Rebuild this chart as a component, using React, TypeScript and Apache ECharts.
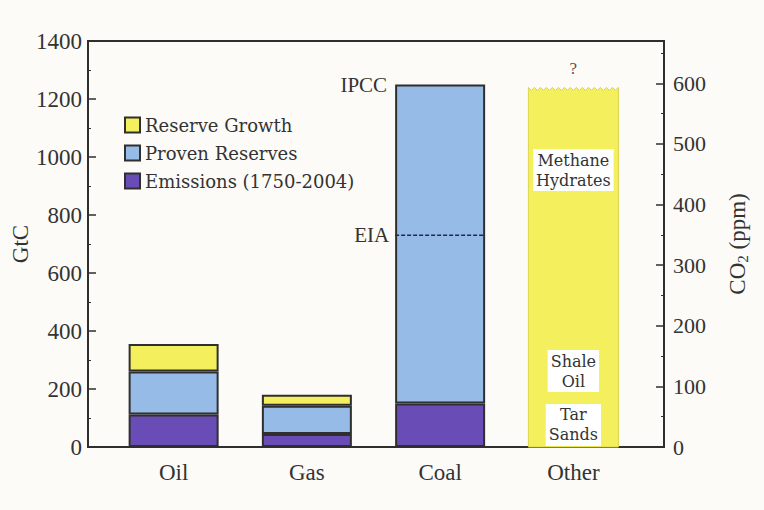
import React, { useEffect, useRef } from "react";
import * as echarts from "echarts";

// ---- data (GtC) ----
const categories = ["Oil", "Gas", "Coal", "Other"];
const emissions = [112, 45, 150, null];
const provenReserves = [148, 97, 1100, null];
const reserveGrowth = [95, 38, null, null];
const otherResources = [[3, 1240]];
const ipccCoal = [[2, 1250]];
const eiaCoal = [[2, 730]];
const otherLabels = ["Methane\nHydrates", "Shale\nOil", "Tar\nSands"];
const otherLabelValues = [955, 262, 76];
const gtcMax = 1400;
const gtcInterval = 200;
const gtcPerPpm = 2.09;
const ppmInterval = 100;

const BAR_W = 90;
const AXIS_FONT = '"Liberation Serif", "Times New Roman", serif';
const LEG_FONT = '"DejaVu Serif", serif';
const C_YELLOW = "#f4ef5c";
const C_BLUE = "#97bbe7";
const C_PURPLE = "#6a4cb6";
const C_LINE = "#2f2f2f";

export default function App() {
  const ref = useRef<HTMLDivElement>(null);
  useEffect(() => {
    if (!ref.current) return;
    const chart = echarts.init(ref.current, null, { renderer: "svg" });
    const barStyle = (color: string) => ({
      color,
      borderColor: C_LINE,
      borderWidth: 2,
    });
    const option: any = {
      animation: false,
      backgroundColor: "#fcfbf7",
      legend: {
        data: ["Reserve Growth", "Proven Reserves", "Emissions (1750-2004)"],
        orient: "vertical",
        left: 119,
        top: 111,
        icon: "rect",
        itemWidth: 15,
        itemHeight: 15,
        itemGap: 10,
        textStyle: { fontFamily: LEG_FONT, fontSize: 18, color: "#333" },
      },
      grid: [
        { left: 107, right: 124, top: 41, bottom: 63, outerBoundsMode: "none", containLabel: false },
        {
          left: 88,
          right: 100,
          top: 41,
          bottom: 63,
          outerBoundsMode: "none",
          containLabel: false,
          show: true,
          borderColor: C_LINE,
          borderWidth: 2,
          backgroundColor: "transparent",
        },
      ],
      xAxis: [
        {
          type: "category",
          gridIndex: 0,
          data: categories,
          axisLine: { show: false },
          axisTick: { show: false },
          axisLabel: {
            margin: 14,
            fontFamily: AXIS_FONT,
            fontSize: 23,
            color: "#333",
          },
        },
        { type: "value", gridIndex: 1, min: 0, max: 1, show: false },
      ],
      yAxis: [
        { type: "value", gridIndex: 0, min: 0, max: gtcMax, show: false },
        {
          type: "value",
          gridIndex: 1,
          position: "left",
          min: 0,
          max: gtcMax,
          interval: gtcInterval,
          name: "GtC",
          nameLocation: "middle",
          nameRotate: 90,
          nameGap: 56,
          nameMoveOverlap: false,
          nameTextStyle: {
            fontFamily: AXIS_FONT,
            fontSize: 23,
            color: "#333",
          },
          axisLine: { show: true, lineStyle: { color: C_LINE, width: 2 } },
          axisTick: { show: true, inside: true, length: 8, lineStyle: { color: C_LINE, width: 1.5 } },
          minorTick: { show: true, splitNumber: 2, length: 3, lineStyle: { color: C_LINE } },
          splitLine: { show: false },
          axisLabel: {
            margin: 6,
            fontFamily: AXIS_FONT,
            fontSize: 23,
            color: "#333",
            formatter: (v: number) => String(v),
          },
        },
        {
          type: "value",
          gridIndex: 1,
          position: "right",
          min: 0,
          max: gtcMax / gtcPerPpm,
          interval: ppmInterval,
          name: "{a|CO}{s|2}{a| (ppm)}",
          nameLocation: "middle",
          nameRotate: 90,
          nameGap: 61,
          nameTextStyle: {
            rich: {
              a: { fontFamily: AXIS_FONT, fontSize: 23, color: "#333" },
              s: { fontFamily: AXIS_FONT, fontSize: 15, color: "#333", padding: [10, 0, 0, 0] },
            },
          },
          axisLine: { show: true, lineStyle: { color: C_LINE, width: 2 } },
          axisTick: { show: true, inside: true, length: 8, lineStyle: { color: C_LINE, width: 1.5 } },
          minorTick: { show: true, splitNumber: 2, length: 3, lineStyle: { color: C_LINE } },
          splitLine: { show: false },
          axisLabel: {
            margin: 9,
            fontFamily: AXIS_FONT,
            fontSize: 22,
            color: "#333",
            formatter: (v: number) => (Math.abs(v % ppmInterval) < 1e-6 ? String(v) : ""),
          },
        },
      ],
      series: [
        {
          name: "Emissions (1750-2004)",
          type: "bar",
          stack: "total",
          barWidth: BAR_W,
          data: emissions,
          itemStyle: barStyle(C_PURPLE),
        },
        {
          name: "Proven Reserves",
          type: "bar",
          stack: "total",
          barWidth: BAR_W,
          data: provenReserves,
          itemStyle: barStyle(C_BLUE),
        },
        {
          name: "Reserve Growth",
          type: "bar",
          stack: "total",
          barWidth: BAR_W,
          data: reserveGrowth,
          itemStyle: barStyle(C_YELLOW),
        },
        {
          name: "Other",
          type: "custom",
          data: otherResources,
          encode: { x: 0, y: 1 },
          z: 3,
          renderItem: (params: any, api: any) => {
            const x = api.value(0);
            const top = api.coord([x, api.value(1)]);
            const base = api.coord([x, 0]);
            const l = top[0] - BAR_W / 2;
            const r = top[0] + BAR_W / 2;
            const pts: number[][] = [
              [l, base[1]],
              [r, base[1]],
            ];
            const step = 3;
            let i = 0;
            for (let xx = r; xx >= l - 0.01; xx -= step, i++) {
              pts.push([xx, top[1] + (i % 2 === 0 ? 0 : 3)]);
            }
            return {
              type: "polygon",
              shape: { points: pts },
              style: { fill: C_YELLOW, stroke: "#dcd44a", lineWidth: 1 },
            };
          },
        },
        {
          name: "annotations",
          type: "custom",
          data: otherLabelValues.map((v) => [3, v]),
          encode: { x: 0, y: 1 },
          z: 6,
          renderItem: (params: any, api: any) => {
            const p = api.coord([api.value(0), api.value(1)]);
            return {
              type: "text",
              style: {
                text: otherLabels[params.dataIndex],
                x: p[0],
                y: p[1],
                align: "center",
                verticalAlign: "middle",
                font: '16px "DejaVu Serif"',
                lineHeight: 20,
                fill: "#333",
                backgroundColor: "#ffffff",
                padding: [1, 3],
              },
            };
          },
        },
        {
          name: "IPCC",
          type: "custom",
          data: ipccCoal,
          encode: { x: 0, y: 1 },
          z: 6,
          renderItem: (params: any, api: any) => {
            const p = api.coord([api.value(0), api.value(1)]);
            return {
              type: "text",
              style: {
                text: "IPCC",
                x: p[0] - BAR_W / 2 - 8,
                y: p[1],
                align: "right",
                verticalAlign: "middle",
                font: '21px "Liberation Serif"',
                fill: "#333",
              },
            };
          },
        },
        {
          name: "EIA",
          type: "custom",
          data: eiaCoal,
          encode: { x: 0, y: 1 },
          z: 6,
          renderItem: (params: any, api: any) => {
            const p = api.coord([api.value(0), api.value(1)]);
            return {
              type: "group",
              children: [
                {
                  type: "line",
                  shape: { x1: p[0] - BAR_W / 2, y1: p[1], x2: p[0] + BAR_W / 2, y2: p[1] },
                  style: { stroke: "#1f2a44", lineWidth: 1.5, lineDash: [4, 2] },
                },
                {
                  type: "text",
                  style: {
                    text: "EIA",
                    x: p[0] - BAR_W / 2 - 6,
                    y: p[1],
                    align: "right",
                    verticalAlign: "middle",
                    font: '21px "Liberation Serif"',
                    fill: "#333",
                  },
                },
              ],
            };
          },
        },
        {
          name: "question",
          type: "custom",
          data: otherResources,
          encode: { x: 0, y: 1 },
          z: 6,
          renderItem: (params: any, api: any) => {
            const p = api.coord([api.value(0), api.value(1)]);
            return {
              type: "text",
              style: {
                text: "?",
                x: p[0],
                y: p[1] - 19,
                align: "center",
                verticalAlign: "middle",
                font: '17px "Liberation Serif"',
                fill: "#555",
              },
            };
          },
        },
      ],
    };
    chart.setOption(option);
    return () => chart.dispose();
  }, []);
  return (
    <div
      ref={ref}
      style={{ position: "fixed", left: 0, top: 0, width: 764, height: 510 }}
    />
  );
}
